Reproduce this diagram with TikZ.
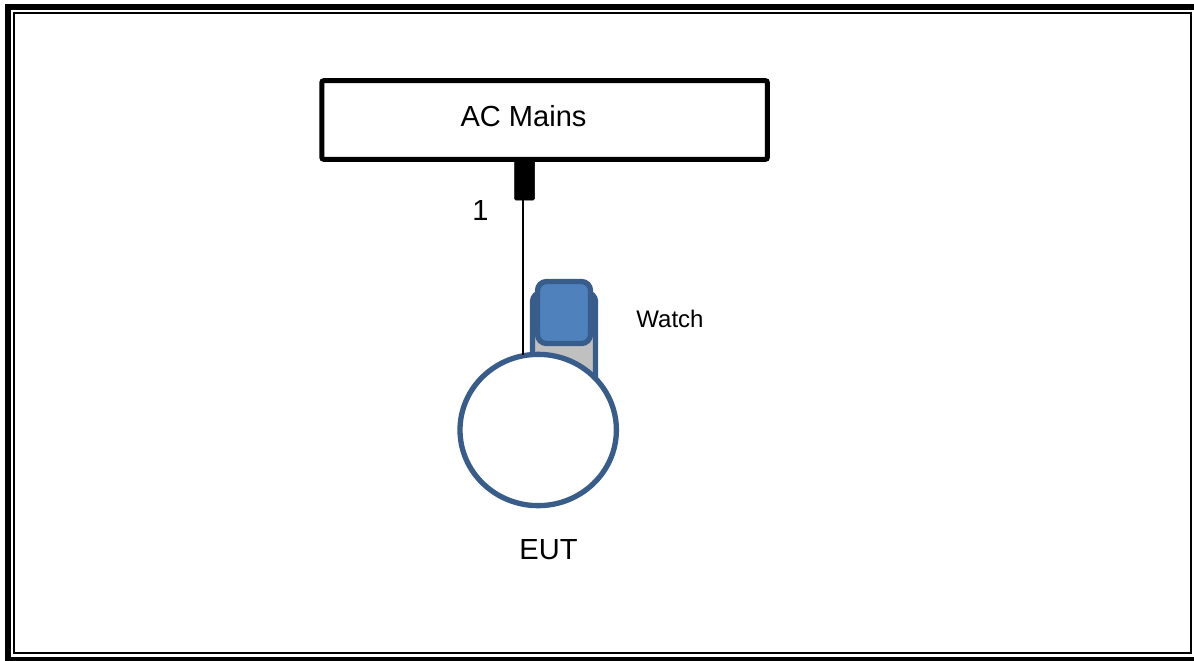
\documentclass[tikz,border=0pt]{standalone}
\usepackage{fontspec}
\setmainfont{Liberation Sans}
\usepackage{tikz}
\usetikzlibrary{shapes.geometric}

\begin{document}
\begin{tikzpicture}[x=0.75pt,y=-0.75pt,
    label28/.style={font=\fontsize{21.8}{26}\selectfont, inner sep=0pt},
    label24/.style={font=\fontsize{18}{22}\selectfont, inner sep=0pt}]
      % Define pixel size
      \def\px{0.75pt}

      % Define colors
      \definecolor{eutblue}{RGB}{56,93,138}
      \definecolor{watchblue}{RGB}{79,129,189}
      \definecolor{strapgray}{RGB}{192,192,192}

      \useasboundingbox (0,0) rectangle (1194,660);

      % Page frame
      \draw[line width=6*\px] (8,7) rectangle (1199,659.5);
      \draw[line width=2*\px] (14,13) rectangle (1191,653);

      % Mains box
      \node[draw, rounded corners=1.5pt, line width=5*\px, minimum width=445.5*\px, minimum height=78.7*\px, inner sep=0pt] (M) at (544.6,120) {};
      \node[label28] (A) at (523.5,116) {AC Mains};

      % Plug
      \node[draw, fill=black, rounded corners=1pt, line width=0.5*\px, minimum width=20*\px, minimum height=39*\px, inner sep=0pt] (P) at (524.5,180.5) {};
      \node[label28] (N1) at (480.5,210.5) {1};

      % Watch strap
      \node[draw=eutblue, fill=strapgray, rounded corners=9*\px, line width=5.3*\px, minimum width=63*\px, minimum height=100*\px, inner sep=0pt] (S) at (564,342.5) {};

      % Cable
      \coordinate (C) at (523,200);
      \node[draw=eutblue, fill=white, ellipse, line width=5.3*\px, minimum width=156.4*\px, minimum height=151.3*\px, inner sep=0pt] (E) at (538.2,430) {};
      \draw[line width=1.5*\px, shorten >=-3*\px] (C) -- (C |- E.north);

      % Watch face
      \node[draw=eutblue, fill=watchblue, rounded corners=9*\px, line width=5.3*\px, minimum width=53*\px, minimum height=62*\px, inner sep=0pt] (W) at (564,312.5) {};

      % Labels
      \node[label24] (T) at (670,319) {Watch};
      \node[label28] (U) at (548.5,550) {EUT};

    \end{tikzpicture}
\end{document}
